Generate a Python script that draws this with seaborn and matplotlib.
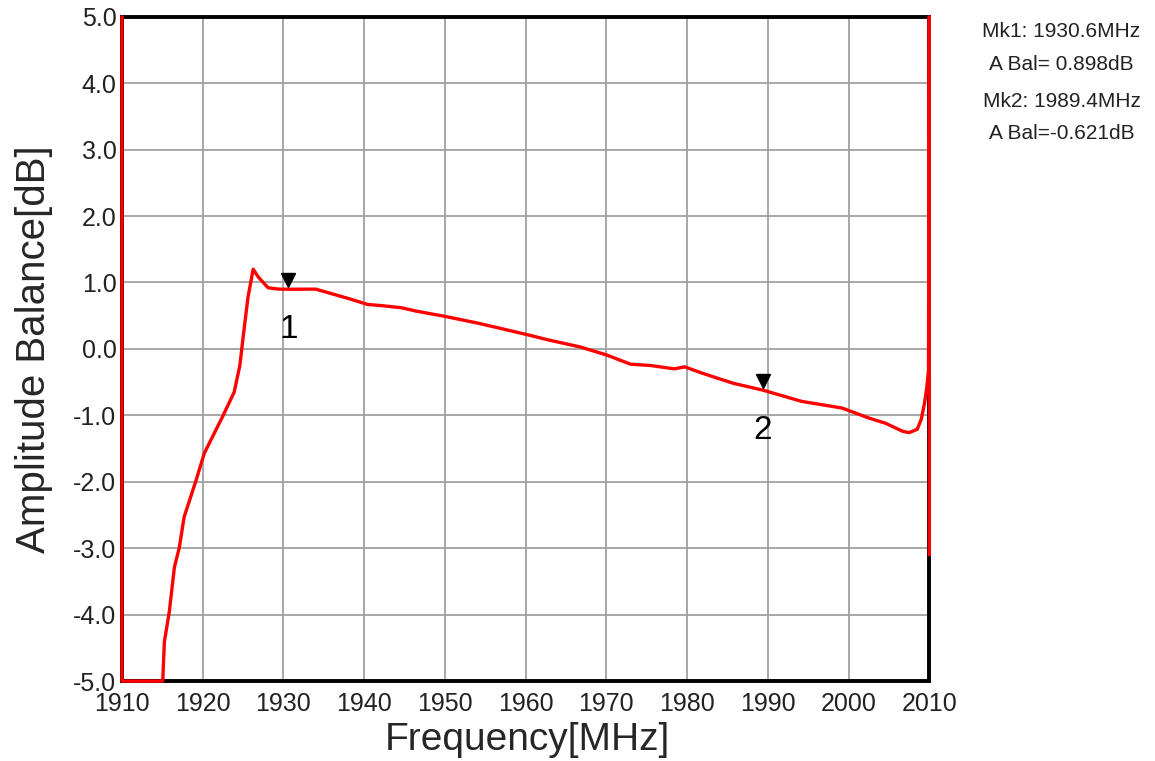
import matplotlib
matplotlib.use("Agg")
import matplotlib.pyplot as plt
from matplotlib.transforms import offset_copy
import seaborn as sns
import pandas as pd

# ---- data ----
freq = [1910, 1910, 1915.05, 1915.25, 1915.87, 1916.49, 1917.1, 1917.7, 1919.2,
        1920.2, 1922.5, 1923.9, 1924.6, 1925.0, 1925.6, 1926.25, 1926.9, 1928.1, 1929.4,
        1930.6, 1934.0, 1938.3, 1940.4, 1942.3, 1944.6, 1946.4, 1950, 1954,
        1956.5, 1960, 1963.0, 1966.75, 1970, 1973, 1975.5, 1978.4, 1979.7,
        1981.75, 1984.25, 1985.8, 1989.4, 1994.2, 1999.2, 2002.5, 2004.6,
        2006.7, 2007.5, 2008.5, 2009.0, 2009.4, 2009.7, 2009.9, 2010, 2010]
abal = [5, -5, -5, -4.41, -3.95, -3.29, -2.99, -2.53, -1.97,
        -1.57, -1.01, -0.65, -0.25, 0.17, 0.77, 1.20, 1.08, 0.92, 0.90,
        0.898, 0.90, 0.75, 0.67, 0.65, 0.62, 0.57, 0.49, 0.39,
        0.32, 0.22, 0.13, 0.03, -0.09, -0.23, -0.25, -0.30, -0.27,
        -0.36, -0.46, -0.52, -0.621, -0.79, -0.89, -1.04, -1.12,
        -1.24, -1.26, -1.21, -1.06, -0.82, -0.57, -0.32, 5, -3.1]

marker_names = ["1", "2"]
marker_freq = [1930.6, 1989.4]
marker_val = [0.898, -0.621]

x_ticks = list(range(1910, 2011, 10))
y_ticks = [-5.0, -4.0, -3.0, -2.0, -1.0, 0.0, 1.0, 2.0, 3.0, 4.0, 5.0]

info = ["Mk1: 1930.6MHz", "A Bal= 0.898dB", "Mk2: 1989.4MHz", "A Bal=-0.621dB"]

df = pd.DataFrame({"freq": freq, "abal": abal})

sns.set_style("white")
plt.rcParams["font.family"] = ["Liberation Sans", "DejaVu Sans"]

fig = plt.figure(figsize=(11.55, 7.61), dpi=100)
ax = fig.add_axes([0.1056, 0.105, 0.699, 0.873])

sns.lineplot(data=df, x="freq", y="abal", sort=False, estimator=None,
             color="#ff0000", linewidth=2.4, ax=ax, zorder=5, clip_on=False)

# markers: triangle just above the trace, number below it
tri_tr = offset_copy(ax.transData, fig=fig, x=0, y=9, units="dots")
for name, fx, fy in zip(marker_names, marker_freq, marker_val):
    ax.plot([fx], [fy], marker="v", color="black", markersize=10,
            linestyle="none", zorder=6, transform=tri_tr)
    ax.annotate(name, xy=(fx, fy), xytext=(0, -40), textcoords="offset pixels",
                ha="center", va="center", fontsize=24, color="black")

ax.set_xlim(1910, 2010)
ax.set_ylim(-5, 5)
ax.set_xticks(x_ticks)
ax.set_yticks(y_ticks)
ax.set_xticklabels([str(t) for t in x_ticks])
ax.set_yticklabels([f"{t:.1f}" for t in y_ticks])
ax.tick_params(length=0, labelsize=18, labelcolor="#222222")
ax.tick_params(axis="x", pad=8)
ax.tick_params(axis="y", pad=4)
ax.grid(True, color="#a0a0a0", linewidth=1.3)

for sp in ax.spines.values():
    sp.set_visible(True)
    sp.set_color("black")
    sp.set_linewidth(2.8)

ax.set_xlabel("Frequency[MHz]", fontsize=28)
ax.set_ylabel("Amplitude Balance[dB]", fontsize=29)
ax.xaxis.set_label_coords(0.502, -0.062)
ax.yaxis.set_label_coords(-0.0855, 0.5)

info_y = [0.958, 0.915, 0.866, 0.825]
for txt, yy in zip(info, info_y):
    fig.text(0.919, yy, txt, ha="center", va="center", fontsize=15, color="#222222")

fig.savefig("out.png", dpi=100)
